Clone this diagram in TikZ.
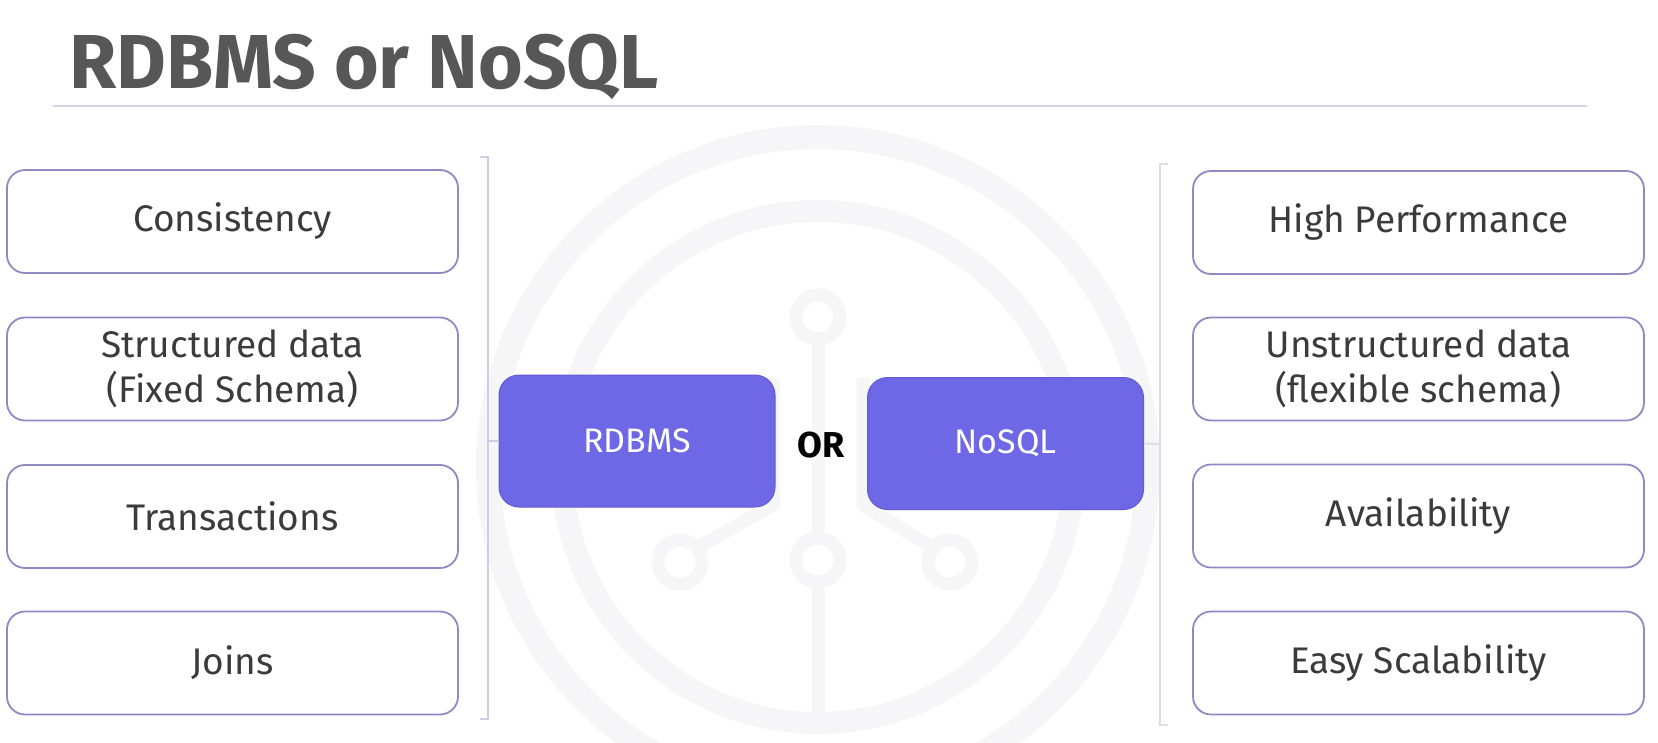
\documentclass[tikz,border=0pt]{standalone}
\usepackage{fontspec}
\setmainfont{Fira Sans}
\newfontfamily\bodyfont{Fira Sans}
\usetikzlibrary{calc}
\definecolor{wmark}{HTML}{F6F6F9}
\definecolor{boxedge}{HTML}{8D8AC4}
\definecolor{purplefill}{HTML}{6E67E6}
\definecolor{purpleedge}{HTML}{625CD0}
\definecolor{brack}{HTML}{CFCDE5}
\definecolor{titlegray}{HTML}{575757}
\definecolor{txtgray}{HTML}{3B3B3B}
\tikzset{
  featbox/.style={draw=boxedge, line width=1.8pt, rounded corners=18pt, fill=white,
    minimum width=451pt, minimum height=103pt, inner sep=0pt, align=center,
    text=txtgray, font=\bodyfont\fontsize{37}{45}\selectfont},
  dbbox/.style={draw=purpleedge, line width=1pt, fill=purplefill, rounded corners=20pt,
    minimum width=276pt, minimum height=132pt, inner sep=0pt, text=white,
    font=\bodyfont\fontsize{34}{38}\selectfont},
  brk/.style={draw=brack, line width=2pt},
  wm/.style={draw=wmark, line width=13pt},
}
\begin{document}
\begin{tikzpicture}[x=1pt,y=-1pt]
\useasboundingbox (0,0) rectangle (1658,742);
\fill[white] (0,0) rectangle (1658,742);
% watermark
\begin{scope}
\clip (0,0) rectangle (1658,742);
\draw[wmark, line width=24pt] (818,467) circle (330);
\draw[wmark, line width=22pt] (818,467) circle (256);
\draw[wm] (818,317) circle (22);
\draw[wm] (818,560) circle (22);
\draw[wm] (680,562) circle (22);
\draw[wm] (950,562) circle (22);
\draw[wm] (818,339) -- (818,538);
\draw[wm] (818,582) -- (818,723);
\draw[wm] (733,420) -- (733,378) arc[start angle=180, end angle=0, radius=20] -- (773,505) -- (697,548);
\draw[wm] (903,420) -- (903,378) arc[start angle=0, end angle=180, radius=20] -- (863,505) -- (933,548);
\end{scope}
% title
\node[anchor=base west, inner sep=0pt, text=titlegray, font=\fontsize{76.5}{80}\selectfont\bfseries] (title) at (69,88) {RDBMS or NoSQL};
\coordinate (ruleL) at (53,106);
\coordinate (ruleR) at (1587,106);
\draw[draw=brack!85!white, line width=2pt] (ruleL) -- (ruleR);
% left boxes
\node[featbox] (l1) at (232.5,221.5) {Consistency};
\node[featbox] (l2) at (232.5,369) {Structured data\\(Fixed Schema)};
\node[featbox] (l3) at (232.5,516.5) {Transactions};
\node[featbox] (l4) at (232.5,663) {Joins};
% right boxes
\node[featbox] (r1) at (1418.5,222.5) {High Performance};
\node[featbox] (r2) at (1418.5,369) {Unstructured data\\(flexible schema)};
\node[featbox] (r3) at (1418.5,516) {Availability};
\node[featbox] (r4) at (1418.5,663) {Easy Scalability};
% center boxes
\node[dbbox] (rdbms) at (637,441) {RDBMS};
\node[dbbox] (nosql) at (1005.5,443.5) {NoSQL};
\node[font=\bodyfont\fontsize{36}{40}\selectfont\bfseries, text=black, inner sep=0pt] (or) at (821,445) {OR};
% left bracket
\coordinate (lbt) at (480,157);
\coordinate (lbtv) at (488,157);
\coordinate (lbb) at (480,719);
\coordinate (lbbv) at (488,719);
\coordinate (lbm) at (488,441);
\draw[brk] (lbt) -- (lbtv) -- (lbbv) -- (lbb);
\draw[brk] (lbm) -- (rdbms.west);
% right bracket
\coordinate (rbt) at (1168,164);
\coordinate (rbtv) at (1160,164);
\coordinate (rbb) at (1168,725);
\coordinate (rbbv) at (1160,725);
\coordinate (rbm) at (1160,444);
\draw[brk, draw=brack!70!white] (rbt) -- (rbtv) -- (rbbv) -- (rbb);
\draw[brk, draw=brack!70!white] (rbm) -- (nosql.east);
\end{tikzpicture}
\end{document}
